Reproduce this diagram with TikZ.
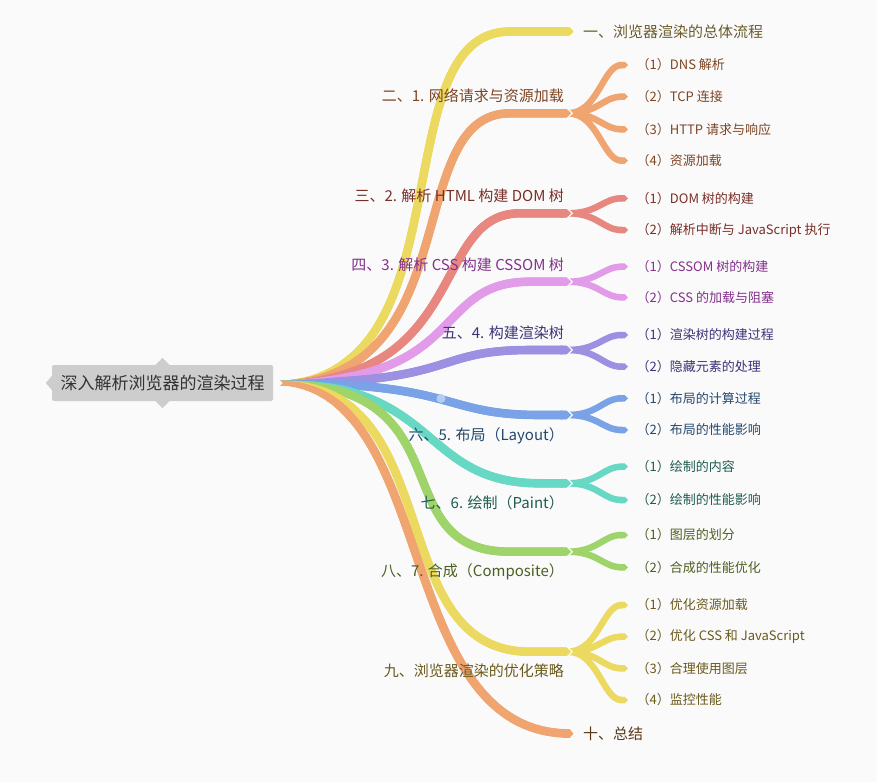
\documentclass[tikz,border=0pt]{standalone}
\usepackage{fontspec}
\setmainfont{Noto Sans CJK SC}
\newfontfamily\halfpunct{Noto Sans CJK SC}[RawFeature=+halt]
\usetikzlibrary{positioning,arrows.meta}

\definecolor{bgc}{HTML}{FAFAFA}
\definecolor{rootfill}{HTML}{CDCDCD}
\definecolor{roottext}{HTML}{333333}
% branch colours
\definecolor{cyel}{HTML}{ECD95F}
\definecolor{cora}{HTML}{F0A571}
\definecolor{cred}{HTML}{E8877F}
\definecolor{cpnk}{HTML}{E29BE9}
\definecolor{cpur}{HTML}{9C90E2}
\definecolor{cblu}{HTML}{79A3E6}
\definecolor{ctea}{HTML}{66D8C3}
\definecolor{cgrn}{HTML}{9ED46A}
% text colours
\definecolor{tone}{HTML}{6B5B2B}
\definecolor{tora}{HTML}{7E4524}
\definecolor{tred}{HTML}{7A2E28}
\definecolor{tpnk}{HTML}{84308C}
\definecolor{tpur}{HTML}{3B3478}
\definecolor{tblu}{HTML}{24486E}
\definecolor{ttea}{HTML}{1F5C50}
\definecolor{tgrn}{HTML}{4B6020}
\definecolor{tyel}{HTML}{6A5A1C}
\definecolor{tten}{HTML}{5C3A1A}

\newcommand{\subno}[1]{{\halfpunct （}#1）}
% thick branch, thin at the root, full width further out
\newcommand{\taper}[2]{%
  \foreach \w in {0,...,9}{%
    \begin{scope}
      \clip (277+7*\w,0) rectangle (877,782);
      \draw[line width=4.5pt+0.45pt*\w, #1, -{Triangle Cap}] #2;
    \end{scope}}}

\begin{document}
\begin{tikzpicture}[x=1pt, y=-1pt,
        rootbox/.style={fill=rootfill, text=roottext, rounded corners=2pt, minimum width=221pt, minimum height=36pt, inner sep=0pt, font=\fontsize{17}{20}\selectfont},
        mainlab/.style={font=\fontsize{15}{18}\selectfont, inner sep=1pt},
        sublab/.style={font=\fontsize{13}{15}\selectfont, inner sep=1pt},
        forkline/.style={line width=6.5pt, -{Triangle Cap}},
        gapline/.style={draw=bgc, line width=1.2pt}
    ]
        \fill[bgc] (0,0) rectangle (877,782);
        \useasboundingbox (0,0) rectangle (877,782);

        % Root
        \node[rootbox] (root) at (162.5,383) {深入解析浏览器的渲染过程};
        \fill[rootfill] ([xshift=-7pt]root.north) -- ([yshift=7pt]root.north) -- ([xshift=7pt]root.north) -- cycle;
        \fill[rootfill] ([xshift=-7pt]root.south) -- ([yshift=-7pt]root.south) -- ([xshift=7pt]root.south) -- cycle;
        \fill[rootfill] ([yshift=-7pt]root.west) -- ([xshift=-6pt]root.west) -- ([yshift=7pt]root.west) -- cycle;
        \coordinate (hub) at ([xshift=4pt]root.east);

        % Branch ends (tips)
        \coordinate (b1) at (573,31.5);
        \coordinate (b2) at (571,113.3);
        \coordinate (b3) at (571,213.3);
        \coordinate (b4) at (571,281.7);
        \coordinate (b5) at (571,350);
        \coordinate (b6) at (571,415);
        \coordinate (b7) at (571,483.3);
        \coordinate (b8) at (571,551.7);
        \coordinate (b9) at (571,651.7);
        \coordinate (b10) at (573,733.5);

        % Leaf ends
        \coordinate (c21) at (628,65);    \coordinate (c22) at (628,96.7);
        \coordinate (c23) at (628,129.3); \coordinate (c24) at (628,160.7);
        \coordinate (c31) at (628,198.3); \coordinate (c32) at (628,230);
        \coordinate (c41) at (628,266.7); \coordinate (c42) at (628,297.3);
        \coordinate (c51) at (628,335);   \coordinate (c52) at (628,366.7);
        \coordinate (c61) at (628,398.3); \coordinate (c62) at (628,430);
        \coordinate (c71) at (628,466.7); \coordinate (c72) at (628,500);
        \coordinate (c81) at (628,535);   \coordinate (c82) at (628,567.3);
        \coordinate (c91) at (628,605);   \coordinate (c92) at (628,636.7);
        \coordinate (c93) at (628,668.3); \coordinate (c94) at (628,700);

        % --- Sub branches ---
        \foreach \c in {c21,c22,c23,c24}
            \draw[forkline, cora] ([xshift=-3pt]b2) .. controls +(30,0) and +(-25,0) .. (\c);
        \foreach \c in {c31,c32}
            \draw[forkline, cred] ([xshift=-3pt]b3) .. controls +(30,0) and +(-25,0) .. (\c);
        \foreach \c in {c41,c42}
            \draw[forkline, cpnk] ([xshift=-3pt]b4) .. controls +(30,0) and +(-25,0) .. (\c);
        \foreach \c in {c51,c52}
            \draw[forkline, cpur] ([xshift=-3pt]b5) .. controls +(30,0) and +(-25,0) .. (\c);
        \foreach \c in {c61,c62}
            \draw[forkline, cblu] ([xshift=-3pt]b6) .. controls +(30,0) and +(-25,0) .. (\c);
        \foreach \c in {c71,c72}
            \draw[forkline, ctea] ([xshift=-3pt]b7) .. controls +(30,0) and +(-25,0) .. (\c);
        \foreach \c in {c81,c82}
            \draw[forkline, cgrn] ([xshift=-3pt]b8) .. controls +(30,0) and +(-25,0) .. (\c);
        \foreach \c in {c91,c92,c93,c94}
            \draw[forkline, cyel] ([xshift=-3pt]b9) .. controls +(30,0) and +(-25,0) .. (\c);

        % --- Main branches ---
        \taper{cyel}{(hub) .. controls +(193,0) and +(-130,0) .. ([xshift=-63pt]b1) -- (b1)}
        \taper{cora}{(hub) .. controls +(193,0) and +(-110,0) .. ([xshift=-61pt]b2) -- (b2)}
        \taper{cred}{(hub) .. controls +(193,0) and +(-90,0) .. ([xshift=-51pt]b3) -- (b3)}
        \taper{cpnk}{(hub) .. controls +(193,0) and +(-100,0) .. ([xshift=-41pt]b4) -- (b4)}
        \taper{cpur}{(hub) .. controls +(183,0) and +(-100,0) .. ([xshift=-41pt]b5) -- (b5)}
        \taper{cblu}{(hub) .. controls +(183,0) and +(-100,0) .. ([xshift=-31pt]b6) -- (b6)}
        \taper{ctea}{(hub) .. controls +(163,0) and +(-120,0) .. ([xshift=-31pt]b7) -- (b7)}
        \taper{cgrn}{(hub) .. controls +(193,0) and +(-130,0) .. ([xshift=-61pt]b8) -- (b8)}
        \taper{cyel}{(hub) .. controls +(173,0) and +(-150,0) .. ([xshift=-41pt]b9) -- (b9)}
        \taper{cora}{(hub) .. controls +(163,0) and +(-180,0) .. ([xshift=-3pt]b10) -- (b10)}
        \fill[cblu!55!white] (441,398.5) circle (4.5);

        % --- Gaps at the joints ---
        \fill[bgc] ([shift={(-1,-6)}]hub) -- ([xshift=5.5pt]hub) -- ([shift={(-1,6)}]hub) -- cycle;
        \foreach \b in {b2,b3,b4,b5,b6,b7,b8,b9}
            \draw[gapline] ([shift={(-4.5,5.6)}]\b) -- ([shift={(1.3,0)}]\b) -- ([shift={(-4.5,-5.6)}]\b);

        % --- Labels ---
        \node[mainlab, text=tone, right=9pt of b1] (l1) {一、浏览器渲染的总体流程};
        \node[mainlab, text=tora, above left=9pt and 6pt of b2] (l2) {二、1. 网络请求与资源加载};
        \node[mainlab, text=tred, above left=9pt and 6pt of b3] (l3) {三、2. 解析 HTML 构建 DOM 树};
        \node[mainlab, text=tpnk, above left=9pt and 6pt of b4] (l4) {四、3. 解析 CSS 构建 CSSOM 树};
        \node[mainlab, text=tpur, above left=9pt and 6pt of b5] (l5) {五、4. 构建渲染树};
        \node[mainlab, text=tblu, below left=11pt and 6pt of b6] (l6) {六、5. 布局（Layout）};
        \node[mainlab, text=ttea, below left=11pt and 6pt of b7] (l7) {七、6. 绘制（Paint）};
        \node[mainlab, text=tgrn, below left=11pt and 6pt of b8] (l8) {八、7. 合成（Composite）};
        \node[mainlab, text=tyel, below left=11pt and 6pt of b9] (l9) {九、浏览器渲染的优化策略};
        \node[mainlab, text=tten, right=9pt of b10] (l10) {十、总结};

        \node[sublab, text=tora, right=14pt of c21] (s21) {\subno{1}DNS 解析};
        \node[sublab, text=tora, right=14pt of c22] (s22) {\subno{2}TCP 连接};
        \node[sublab, text=tora, right=14pt of c23] (s23) {\subno{3}HTTP 请求与响应};
        \node[sublab, text=tora, right=14pt of c24] (s24) {\subno{4}资源加载};
        \node[sublab, text=tred, right=14pt of c31] (s31) {\subno{1}DOM 树的构建};
        \node[sublab, text=tred, right=14pt of c32] (s32) {\subno{2}解析中断与 JavaScript 执行};
        \node[sublab, text=tpnk, right=14pt of c41] (s41) {\subno{1}CSSOM 树的构建};
        \node[sublab, text=tpnk, right=14pt of c42] (s42) {\subno{2}CSS 的加载与阻塞};
        \node[sublab, text=tpur, right=14pt of c51] (s51) {\subno{1}渲染树的构建过程};
        \node[sublab, text=tpur, right=14pt of c52] (s52) {\subno{2}隐藏元素的处理};
        \node[sublab, text=tblu, right=14pt of c61] (s61) {\subno{1}布局的计算过程};
        \node[sublab, text=tblu, right=14pt of c62] (s62) {\subno{2}布局的性能影响};
        \node[sublab, text=ttea, right=14pt of c71] (s71) {\subno{1}绘制的内容};
        \node[sublab, text=ttea, right=14pt of c72] (s72) {\subno{2}绘制的性能影响};
        \node[sublab, text=tgrn, right=14pt of c81] (s81) {\subno{1}图层的划分};
        \node[sublab, text=tgrn, right=14pt of c82] (s82) {\subno{2}合成的性能优化};
        \node[sublab, text=tyel, right=14pt of c91] (s91) {\subno{1}优化资源加载};
        \node[sublab, text=tyel, right=14pt of c92] (s92) {\subno{2}优化 CSS 和 JavaScript};
        \node[sublab, text=tyel, right=14pt of c93] (s93) {\subno{3}合理使用图层};
        \node[sublab, text=tyel, right=14pt of c94] (s94) {\subno{4}监控性能};
    \end{tikzpicture}
\end{document}
